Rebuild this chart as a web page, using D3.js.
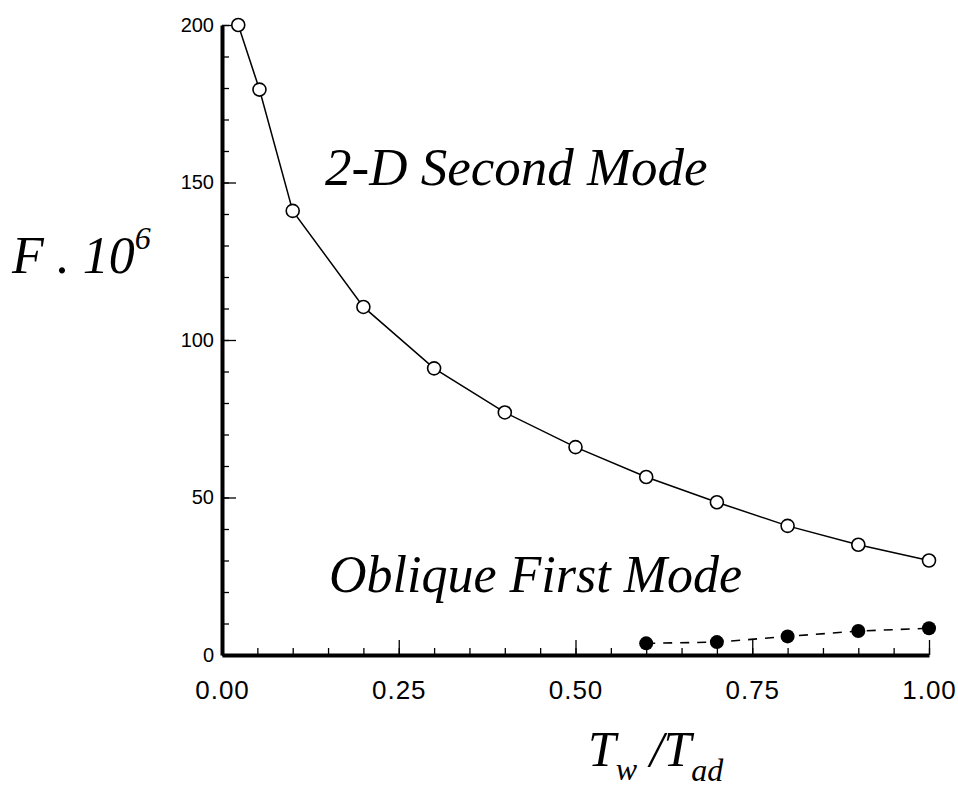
<!DOCTYPE html>
<html>
<head>
<meta charset="utf-8">
<script src="https://cdn.jsdelivr.net/npm/d3@7/dist/d3.min.js"></script>
<style>
  html, body { margin: 0; padding: 0; background: #fff; }
  svg { display: block; }
</style>
</head>
<body>
<svg id="chart" width="958" height="791"></svg>
<script>
// Wall-temperature ratio values and amplification factors (F x 10^6)
const secondModeX = [0.023, 0.053, 0.1, 0.2, 0.3, 0.4, 0.5, 0.6, 0.7, 0.8, 0.9, 1.0];
const secondModeF = [200, 179.5, 141, 110.5, 91, 77, 66, 56.5, 48.5, 41, 35, 30];
const obliqueX = [0.6, 0.7, 0.8, 0.9, 1.0];
const obliqueF = [3.7, 4.1, 5.9, 7.6, 8.5];

const xMajorTicks = [0, 0.25, 0.5, 0.75, 1.0];
const xMinorTicks = d3.range(0, 1.0001, 0.05);
const yMajorTicks = [0, 50, 100, 150, 200];
const yMinorTicks = d3.range(0, 201, 10);

const SANS = '"Liberation Sans", Arial, Helvetica, sans-serif';
const SERIF = '"Liberation Serif", "Times New Roman", Times, serif';

const svg = d3.select("#chart");

const x = d3.scaleLinear().domain([0, 1]).range([222, 929]);
const y = d3.scaleLinear().domain([0, 200]).range([655, 25]);

// minor ticks (inward, no labels)
svg.append("g")
  .attr("transform", `translate(0,${y(0)})`)
  .call(d3.axisBottom(x).tickValues(xMinorTicks).tickSize(-7).tickSizeOuter(0).tickFormat(""))
  .call(g => g.select(".domain").remove())
  .call(g => g.selectAll(".tick line").style("stroke", "#000").style("stroke-width", "1.3px"));

svg.append("g")
  .attr("transform", `translate(${x(0)},0)`)
  .call(d3.axisLeft(y).tickValues(yMinorTicks).tickSize(-7).tickSizeOuter(0).tickFormat(""))
  .call(g => g.select(".domain").remove())
  .call(g => g.selectAll(".tick line").style("stroke", "#000").style("stroke-width", "1.3px"));

// major ticks with labels
const xAxis = svg.append("g")
  .attr("transform", `translate(0,${y(0)})`)
  .call(d3.axisBottom(x).tickValues(xMajorTicks).tickSize(-15).tickSizeOuter(0)
    .tickFormat(d3.format(".2f")));
xAxis.selectAll(".tick line").style("stroke", "#000").style("stroke-width", "1.3px");
xAxis.selectAll(".tick text")
  .attr("y", 26).attr("dy", "0.71em")
  .style("font-family", SANS).style("font-size", "26px").style("letter-spacing", "1px")
  .style("fill", "#000");
xAxis.select(".domain").style("stroke", "#000").style("stroke-width", "4px");

const yAxis = svg.append("g")
  .attr("transform", `translate(${x(0)},0)`)
  .call(d3.axisLeft(y).tickValues(yMajorTicks).tickSize(-14).tickSizeOuter(0)
    .tickFormat(d3.format("d")));
yAxis.selectAll(".tick line").style("stroke", "#000").style("stroke-width", "1.3px");
yAxis.selectAll(".tick text").attr("x", -8)
  .style("font-family", SANS).style("font-size", "20px").style("fill", "#000");
yAxis.select(".domain").style("stroke", "#000").style("stroke-width", "4px");

// 2-D second mode: solid line, open circles
const secondMode = secondModeX.map((d, i) => ({ x: d, f: secondModeF[i] }));
const oblique = obliqueX.map((d, i) => ({ x: d, f: obliqueF[i] }));
const line = d3.line().x(d => x(d.x)).y(d => y(d.f));

svg.append("path")
  .datum(secondMode)
  .attr("d", line)
  .attr("fill", "none")
  .attr("stroke", "#000")
  .attr("stroke-width", 1.5);

svg.append("g").selectAll("circle")
  .data(secondMode)
  .join("circle")
  .attr("cx", d => x(d.x))
  .attr("cy", d => y(d.f))
  .attr("r", 6.5)
  .attr("fill", "#fff")
  .attr("stroke", "#000")
  .attr("stroke-width", 1.6);

// oblique first mode: dashed line, filled circles
svg.append("path")
  .datum(oblique)
  .attr("d", line)
  .attr("fill", "none")
  .attr("stroke", "#000")
  .attr("stroke-width", 1.6)
  .attr("stroke-dasharray", "9,8");

svg.append("g").selectAll("circle")
  .data(oblique)
  .join("circle")
  .attr("cx", d => x(d.x))
  .attr("cy", d => y(d.f))
  .attr("r", 7)
  .attr("fill", "#000");

function serifText(px, py, size) {
  return svg.append("text")
    .attr("x", px).attr("y", py)
    .attr("font-family", SERIF)
    .attr("font-style", "italic")
    .attr("font-size", size)
    .attr("fill", "#000");
}

// curve labels
serifText(325, 185, 53).text("2-D Second Mode");
serifText(329, 592, 52).text("Oblique First Mode");

// y-axis title: F . 10^6
const yTitle = serifText(12, 273, 52);
yTitle.append("tspan").text("F . 10");
yTitle.append("tspan").attr("dy", -24).attr("font-size", 32).text("6");

// x-axis title: T_w / T_ad
const xTitle = serifText(588, 766, 50);
xTitle.append("tspan").text("T");
xTitle.append("tspan").attr("dy", 14).attr("font-size", 32).text("w");
xTitle.append("tspan").attr("dy", -14).text(" /T");
xTitle.append("tspan").attr("dy", 15).attr("font-size", 32).text("ad");
</script>
</body>
</html>
